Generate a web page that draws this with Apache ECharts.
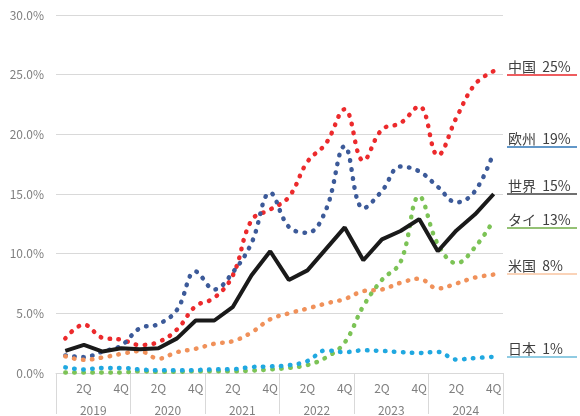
<!DOCTYPE html>
<html>
<head>
<meta charset="utf-8">
<script src="https://cdn.jsdelivr.net/npm/echarts@6/dist/echarts.min.js"></script>
<style>
  html, body { margin: 0; padding: 0; background: #fff; }
  #chart { width: 580px; height: 416px; }
</style>
</head>
<body>
<div id="chart"></div>
<script>
// 年と四半期
const years = ['2019', '2020', '2021', '2022', '2023', '2024'];
const quarters = ['1Q', '2Q', '3Q', '4Q'];
const categories = years.flatMap(y => quarters.map(q => y + '-' + q));

// 各地域の値 (%)
const china  = [2.9, 4.05, 2.95, 2.8, 2.35, 2.6, 3.65, 5.6, 6.3, 8.2, 12.8, 13.7, 14.75, 17.7, 19.25, 22.1, 17.8, 20.4, 20.95, 22.35, 18.25, 21.4, 24.2, 25.3];
const europe = [1.47, 1.33, 1.8, 2.3, 3.75, 4.1, 5.3, 8.5, 7.0, 8.45, 10.9, 15.1, 12.25, 11.75, 13.7, 19.0, 13.8, 15.25, 17.3, 16.9, 15.6, 14.3, 15.25, 18.5];
const world  = [1.86, 2.36, 1.8, 2.08, 2.0, 2.08, 2.9, 4.4, 4.4, 5.55, 8.2, 10.2, 7.8, 8.6, 10.4, 12.2, 9.45, 11.2, 11.9, 12.9, 10.2, 11.95, 13.3, 15.0];
const thai   = [0.05, 0.05, 0.05, 0.05, 0.15, 0.1, 0.1, 0.15, 0.15, 0.15, 0.2, 0.3, 0.43, 0.67, 1.3, 2.55, 5.6, 7.8, 9.3, 14.8, 10.8, 9.2, 10.55, 12.8];
const usa    = [1.4, 1.1, 1.3, 1.6, 1.83, 1.2, 1.75, 2.03, 2.45, 2.67, 3.4, 4.5, 5.0, 5.4, 5.83, 6.2, 6.86, 7.0, 7.56, 7.9, 7.08, 7.5, 8.0, 8.25];
const japan  = [0.47, 0.3, 0.42, 0.42, 0.3, 0.22, 0.22, 0.25, 0.3, 0.32, 0.5, 0.55, 0.65, 1.0, 1.9, 1.75, 1.9, 1.85, 1.75, 1.68, 1.77, 1.13, 1.25, 1.36];

// 右側ラベル
const labelNames = ['中国', '欧州', '世界', 'タイ', '米国', '日本'];
const labelTexts = ['25%', '19%', '15%', '13%', '8%', '1%'];
const labelLevels = [25, 19, 15, 12.2, 8.3, 1.4];

const FONT = '"Noto Sans CJK JP", "Noto Sans", sans-serif';

function endMark(i, color) {
  return {
    silent: true,
    symbol: 'none',
    animation: false,
    lineStyle: { color: color, width: 1.5, type: 'solid' },
    label: {
      show: true,
      position: 'insideStartTop',
      distance: 1,
      formatter: labelNames[i] + '  ' + labelTexts[i],
      color: '#404040',
      fontSize: 14,
      fontFamily: FONT
    },
    emphasis: { disabled: true },
    data: [[
      { xAxis: categories[categories.length - 1], yAxis: labelLevels[i], x: 507 },
      { xAxis: categories[categories.length - 1], yAxis: labelLevels[i], x: 577 }
    ]]
  };
}

function dotted(name, data, color, markIdx, markColor) {
  return {
    name: name,
    type: 'line',
    data: data,
    smooth: 0.4,
    showSymbol: false,
    symbol: 'none',
    lineStyle: { color: color, width: 4.5, type: [0.5, 8.5], cap: 'round' },
    z: 2,
    markLine: endMark(markIdx, markColor)
  };
}

const chart = echarts.init(document.getElementById('chart'), null, { renderer: 'canvas' });

const option = {
  animation: false,
  textStyle: { fontFamily: FONT },
  grid: { left: 56, right: 77, top: 15, bottom: 41 },
  xAxis: [
    {
      type: 'category',
      data: categories,
      position: 'bottom',
      axisLine: { show: true, lineStyle: { color: '#d9d9d9' } },
      axisTick: { show: false },
      axisLabel: {
        interval: 0,
        margin: 9,
        color: '#7f7f7f',
        fontSize: 12,
        formatter: v => {
          const q = v.split('-')[1];
          return (q === '2Q' || q === '4Q') ? q : '';
        }
      }
    },
    {
      type: 'category',
      data: years,
      position: 'bottom',
      axisLine: { show: false },
      axisTick: { show: true, interval: 0, length: 41, lineStyle: { color: '#d9d9d9' } },
      axisLabel: { interval: 0, margin: 31, color: '#7f7f7f', fontSize: 12 }
    }
  ],
  yAxis: {
    type: 'value',
    min: 0,
    max: 30,
    interval: 5,
    axisLine: { show: false },
    axisTick: { show: false },
    splitLine: { lineStyle: { color: '#d9d9d9', width: 1 } },
    axisLabel: {
      margin: 12,
      color: '#7f7f7f',
      fontSize: 12,
      formatter: v => v.toFixed(1) + '%'
    }
  },
  series: [
    dotted('中国', china, '#ec2a2c', 0, '#e8262a'),
    dotted('欧州', europe, '#3c5a99', 1, '#2e75b6'),
    dotted('タイ', thai, '#7cc356', 3, '#70ad47'),
    dotted('米国', usa, '#f0915a', 4, '#f8c4a0'),
    dotted('日本', japan, '#20a8e0', 5, '#6bbad9'),
    {
      name: '世界',
      type: 'line',
      data: world,
      smooth: false,
      showSymbol: false,
      symbol: 'none',
      lineStyle: { color: '#1a1a1a', width: 4 },
      z: 3,
      markLine: endMark(2, '#404040')
    }
  ]
};

chart.setOption(option);
</script>
</body>
</html>
